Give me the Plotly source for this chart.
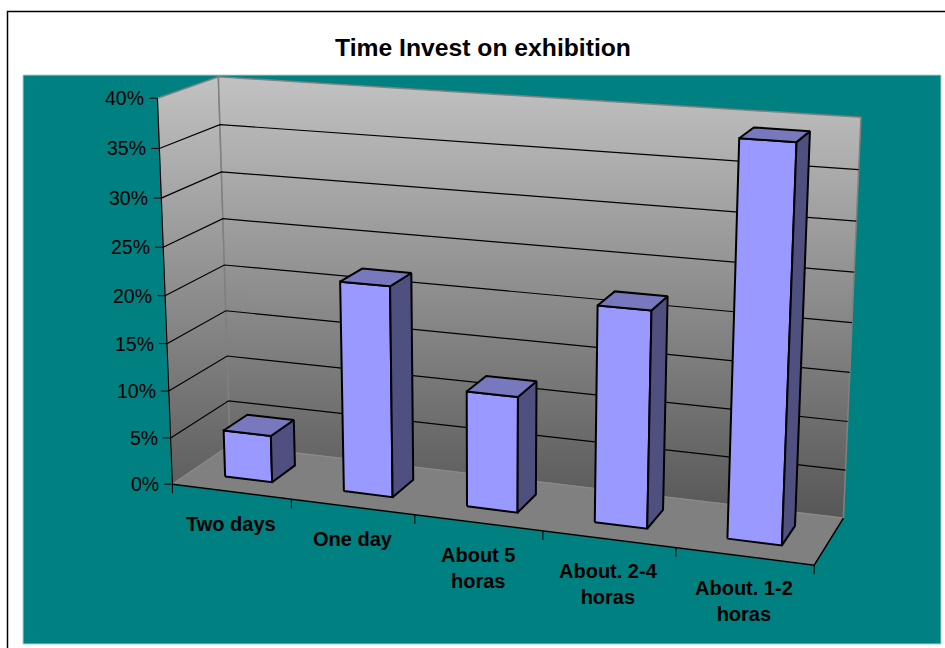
import numpy as np
import plotly.graph_objects as go

# * chart data
categories = ["Two days", "One day", "About 5<br>horas", "About. 2-4<br>horas", "About. 1-2<br>horas"]
share_pct = [5, 22, 12, 22, 39.1]
y_ticks = [0, 5, 10, 15, 20, 25, 30, 35, 40]
y_tick_labels = [f"{t}%" for t in y_ticks]

Y_MAX = y_ticks[-1]
N_CAT = len(categories)

# * bar footprint inside a category slot / the depth of the box
BAR_SPAN = (0.3, 0.7)
BAR_DEPTH = (0.3, 0.72)

# * camera calibration: box corner (category, value, depth) -> picture pixel
CALIB = [
    ((0, 0, 0), (172.0, 484.3)),
    ((0, 40, 0), (157.7, 98.3)),
    ((0, 40, 1), (218.0, 76.7)),
    ((0, 0, 1), (230.5, 445.0)),
    ((5, 40, 1), (861.0, 117.3)),
    ((5, 0, 1), (843.3, 518.3)),
    ((5, 0, 0), (814.3, 565.0)),
]


def fit_camera(calib):
    rows, rhs = [], []
    for (x, y, z), (u, v) in calib:
        rows.append([x, y, z, 1, 0, 0, 0, 0, -u * x, -u * y, -u * z])
        rhs.append(u)
        rows.append([0, 0, 0, 0, x, y, z, 1, -v * x, -v * y, -v * z])
        rhs.append(v)
    sol = np.linalg.lstsq(np.array(rows, float), np.array(rhs, float), rcond=None)[0]
    return np.append(sol, 1.0).reshape(3, 4)


CAMERA = fit_camera(CALIB)


def project(x, y, z):
    u, v, w = CAMERA @ np.array([x, y, z, 1.0])
    return u / w, v / w


def path(points):
    xy = [project(*p) for p in points]
    return [p[0] for p in xy], [p[1] for p in xy]


fig = go.Figure()


def add_line(points, color="#000000", width=1.0, dash="solid"):
    xs, ys = path(points)
    fig.add_trace(go.Scatter(x=xs, y=ys, mode="lines", line=dict(color=color, width=width, dash=dash), hoverinfo="skip"))


def add_face(points, color, line_color="#000000", width=2.0):
    xs, ys = path(points + points[:1])
    fig.add_trace(go.Scatter(x=xs, y=ys, mode="lines", fill="toself", fillcolor=color, line=dict(color=line_color, width=width), hoverinfo="skip"))


def add_wall(points):
    xs, ys = path(points + points[:1])
    fig.add_trace(
        go.Scatter(
            x=xs,
            y=ys,
            mode="lines",
            fill="toself",
            fillgradient=dict(
                type="vertical",
                start=76,
                stop=520,
                colorscale=[[0, "#C2C2C2"], [1, "#565656"]],
            ),
            line=dict(color="#808080", width=1.5),
            hoverinfo="skip",
        )
    )


# * walls + floor
add_wall([(0, 0, 0), (0, Y_MAX, 0), (0, Y_MAX, 1), (0, 0, 1)])
add_wall([(0, 0, 1), (0, Y_MAX, 1), (N_CAT, Y_MAX, 1), (N_CAT, 0, 1)])
add_face([(0, 0, 0), (0, 0, 1), (N_CAT, 0, 1), (N_CAT, 0, 0)], "#808080", line_color="#8c8c8c", width=1)

# * gridlines
for t in y_ticks[1:-1]:
    add_line([(0, t, 0), (0, t, 1), (N_CAT, t, 1)], width=1.2)

# * axis lines
add_line([(0, 0, 0), (0, Y_MAX, 0)], width=1.2)
add_line([(0, 0, 0), (N_CAT, 0, 0), (N_CAT, 0, 1)], width=1.5)

# * bars
for i, v in enumerate(share_pct):
    x0, x1 = i + BAR_SPAN[0], i + BAR_SPAN[1]
    d0, d1 = BAR_DEPTH
    add_face([(x0, 0, d0), (x0, v, d0), (x1, v, d0), (x1, 0, d0)], "#9999FF")
    add_face([(x1, 0, d0), (x1, v, d0), (x1, v, d1), (x1, 0, d1)], "#505080")
    add_face([(x0, v, d0), (x0, v, d1), (x1, v, d1), (x1, v, d0)], "#7878BF")

# * ticks + tick labels
annotations = []
for t, label in zip(y_ticks, y_tick_labels):
    u, v = project(0, t, 0)
    fig.add_trace(go.Scatter(x=[u - 8, u], y=[v, v], mode="lines", line=dict(color="#000000", width=1), hoverinfo="skip"))
    annotations.append(
        dict(x=u - 11, y=v, text=label, showarrow=False, xanchor="right", yanchor="middle", font=dict(size=19.5, color="#000000"))
    )
for i in range(N_CAT + 1):
    u, v = project(i, 0, 0)
    fig.add_trace(go.Scatter(x=[u, u], y=[v, v + 9], mode="lines", line=dict(color="#000000", width=1), hoverinfo="skip"))
for i, label in enumerate(categories):
    u, v = project(i + 0.5, 0, 0)
    annotations.append(
        dict(x=u, y=v, yshift=-19, text=f"<b>{label}</b>", showarrow=False, xanchor="center", yanchor="top", font=dict(size=20, color="#000000"))
    )

fig.update_layout(
    width=945,
    height=648,
    margin=dict(l=0, r=0, t=0, b=0),
    paper_bgcolor="#FFFFFF",
    plot_bgcolor="#FFFFFF",
    showlegend=False,
    font=dict(family="Liberation Sans, Arial, sans-serif"),
    title=dict(
        text="<b>Time Invest on exhibition</b>",
        x=483 / 945,
        y=1 - 47 / 648,
        xanchor="center",
        yanchor="middle",
        font=dict(size=24.7, color="#000000"),
    ),
    annotations=annotations,
    shapes=[
        dict(type="rect", layer="below", x0=7.5, x1=960, y0=11.5, y1=660, line=dict(color="#000000", width=1.5), fillcolor="#FFFFFF"),
        dict(type="rect", layer="below", x0=23, x1=941, y0=75, y1=644, line=dict(color="#A8D4D4", width=1), fillcolor="#008080"),
    ],
)
fig.update_xaxes(range=[0, 945], visible=False, fixedrange=True)
fig.update_yaxes(range=[648, 0], visible=False, fixedrange=True)

# * drop the default page margin so the figure sits at the window origin
fig.write_html("out.html", config={"displayModeBar": False}, post_script="document.body.style.margin='0';")
